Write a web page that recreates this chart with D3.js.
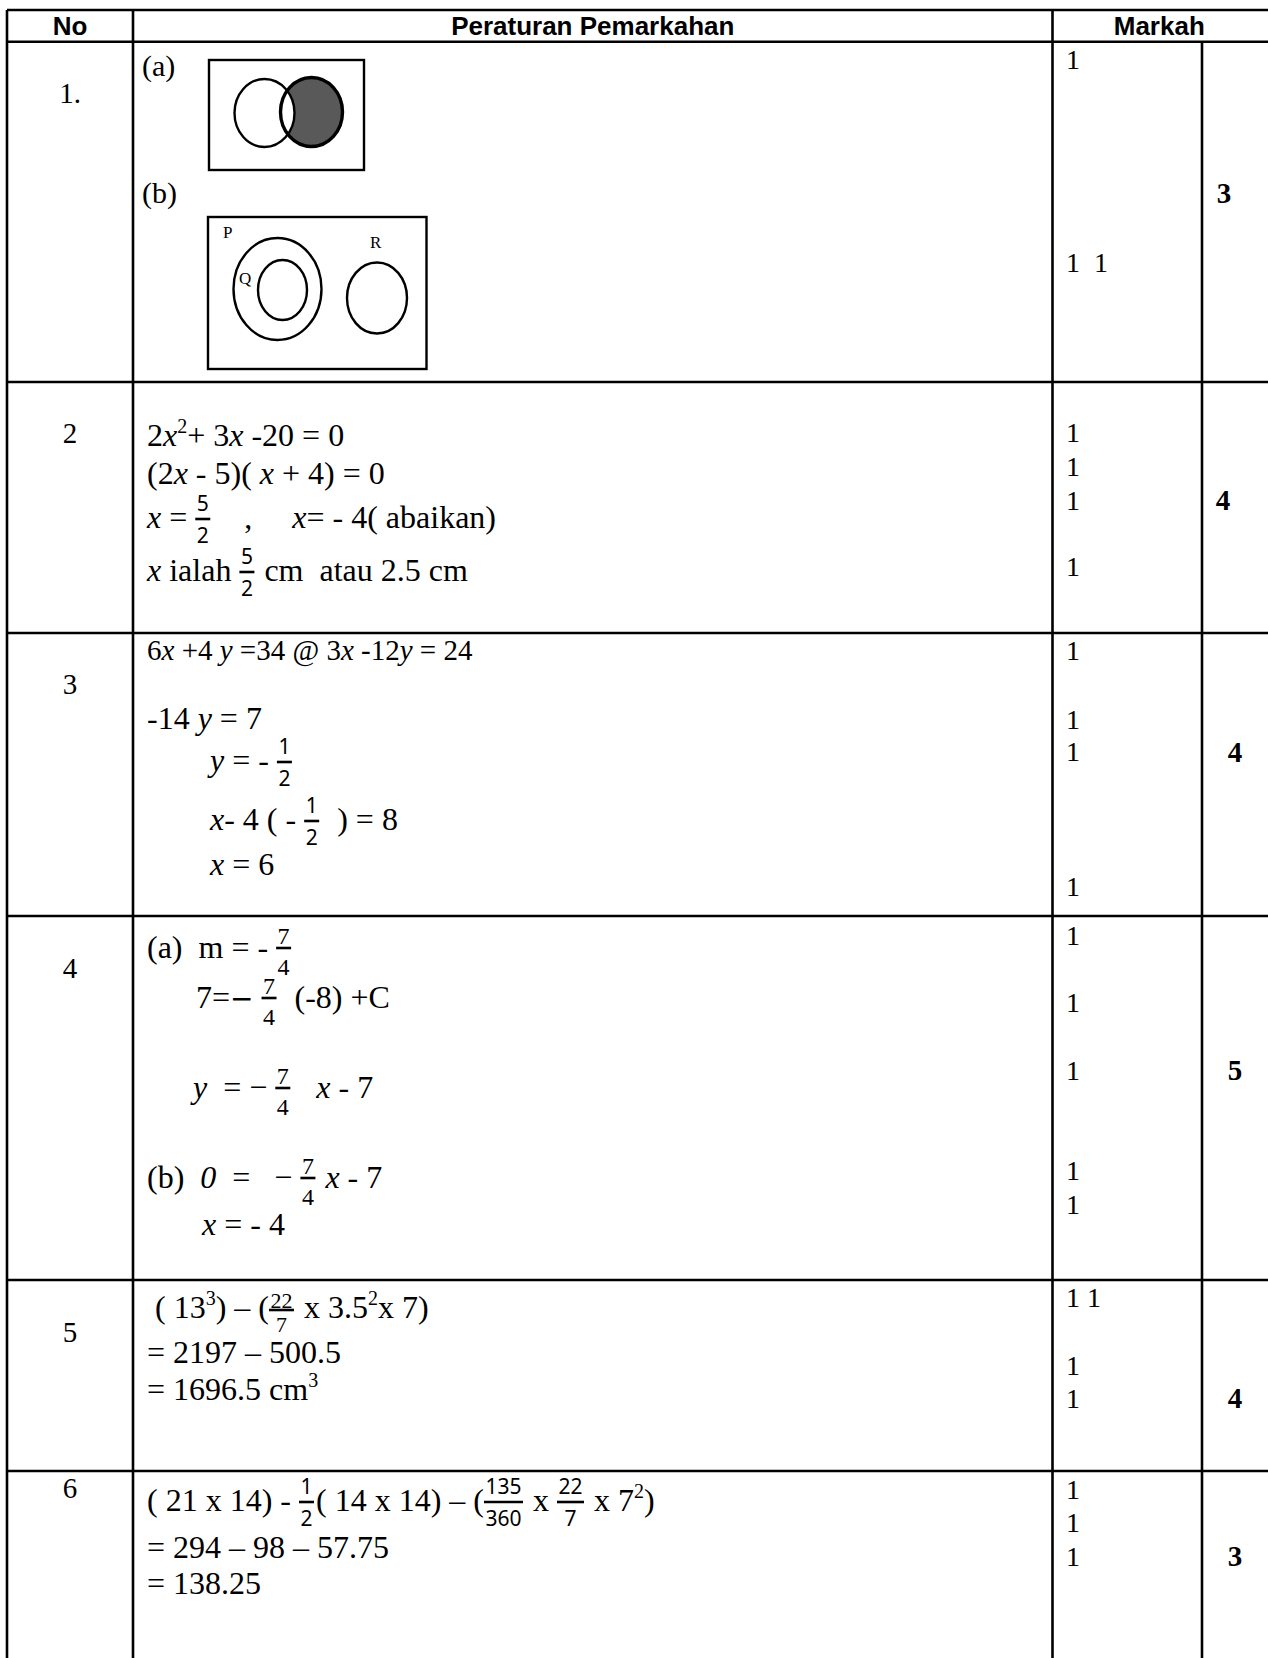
<!DOCTYPE html>
<html>
<head>
<meta charset="utf-8">
<script src="https://cdn.jsdelivr.net/npm/d3@7"></script>
<style>
  body { margin: 0; background: #fff; }
  text { white-space: pre; }
</style>
</head>
<body>
<div id="sheet"></div>
<script>
// ############################################################################
// Peraturan Pemarkahan                                          Marking table
// ############################################################################

// ============================================================================
// Data
// ============================================================================

const headers     = ['No', 'Peraturan Pemarkahan', 'Markah']
const questionNos = ['1.', '2', '3', '4', '5', '6']
const totalMarks  = [3, 4, 4, 5, 4, 3]

// marks given per step, one entry per printed line
const stepMarks = [
  ['1', '1  1'],
  ['1', '1', '1', '1'],
  ['1', '1', '1', '1'],
  ['1', '1', '1', '1', '1'],
  ['1 1', '1', '1'],
  ['1', '1', '1'],
]

// question 1: labels of the two Venn diagrams and the sets in (b)
const partLabels = ['(a)', '(b)']
const setLabels  = ['P', 'Q', 'R']

// working, with a small markup:
//   _x_ italic, ^2^ superscript, {a|b} fraction, ~−~ long maths minus
const working2 = [
  '2_x_^2^+ 3_x_ -20 = 0',
  '(2_x_ - 5)( _x_ + 4) = 0',
  '_x_ = {5|2}    ,     _x_= - 4( abaikan)',
  '_x_ ialah {5|2} cm  atau 2.5 cm',
]
const working3 = [
  '6_x_ +4 _y_ =34 @ 3_x_ -12_y_ = 24',
  '-14 _y_ = 7',
  '_y_ = - {1|2}',
  '_x_- 4 ( - {1|2}  ) = 8',
  '_x_ = 6',
]
const working4 = [
  '(a)  m = - {7|4}',
  '7=~\u2212~ {7|4}  (-8) +C',
  '_y_  = \u2212 {7|4}   _x_ - 7',
  '(b)  _0_  =   \u2212 {7|4} _x_ - 7',
  '_x_ = - 4',
]
const working5 = [
  ' ( 13^3^) \u2013 ({22|7} x 3.5^2^x 7)',
  '= 2197 \u2013 500.5',
  '= 1696.5 cm^3^',
]
const working6 = [
  '( 21 x 14) - {1|2}( 14 x 14) \u2013 ({135|360} x {22|7} x 7^2^)',
  '= 294 \u2013 98 \u2013 57.75',
  '= 138.25',
]

// ============================================================================
// Layout
// ============================================================================

const W = 1268, H = 1658
const colX    = { left: 7, no: 133, marks: 1052.5, total: 1202, right: W }
const rowY    = [10, 41.7, 382, 633, 916, 1280, 1471]   // top, header, rows
const noBase  = [103, 443, 694, 978, 1342, 1498]
const totalCx = [1224, 1223, 1235, 1235, 1235, 1235]
const totalBase = [203, 510, 762, 1080, 1408, 1566]
const markBase = [
  [69, 272],
  [442, 476, 510, 576],
  [660, 729, 761, 896],
  [945, 1012, 1080, 1180, 1214],
  [1307, 1375, 1408],
  [1499, 1532, 1566],
]

// one block per question with text (rows 2..6)
const blocks = [
  { lines: working2, x: [147, 147, 147, 147],       base: [446, 484, 528, 581],
    size: [32, 32, 32, 32], frac: 'sans' },
  { lines: working3, x: [147, 147, 210, 210, 210],  base: [660, 729, 771, 830, 875],
    size: [29, 32, 32, 32, 32], frac: 'sans' },
  { lines: working4, x: [147, 196, 193, 147, 202],  base: [958, 1008, 1098, 1188, 1235],
    size: [32, 32, 32, 32, 32], frac: 'serif' },
  { lines: working5, x: [147, 147, 147],            base: [1318, 1363, 1400],
    size: [32, 32, 32], frac: 'tight' },
  { lines: working6, x: [147, 147, 147],            base: [1511, 1558, 1594],
    size: [32, 32, 32], frac: 'sans' },
]

const SERIF = '"Liberation Serif", "Times New Roman", serif'
const SANS  = '"Liberation Sans", Arial, sans-serif'
const MATH  = '"Noto Sans", "DejaVu Sans", sans-serif'

const fracStyles = {
  sans:  { font: MATH,  size: 21, num: -17.5, bar: -9,  den: 15 },
  serif: { font: SERIF, size: 24, num: -14,   bar: -10, den: 17 },
  tight: { font: SERIF, size: 22, num: -10,   bar: -8,  den: 14 },
}

// ============================================================================
// Canvas
// ============================================================================

const svg = d3.select('#sheet').append('svg')
  .attr('width', W)
  .attr('height', H)
  .style('background-color', '#fff')
  .style('font-family', SERIF)

const grid  = svg.append('g').attr('class', 'grid')
const texts = svg.append('g').attr('class', 'texts')

// ============================================================================
// Table lines
// ============================================================================

const rule = (x1, y1, x2, y2) => grid.append('line')
  .attr('x1', x1).attr('y1', y1).attr('x2', x2).attr('y2', y2)
  .attr('stroke', '#000')
  .attr('stroke-width', 2.6)

rowY.forEach(y => rule(colX.left, y, colX.right, y))
rule(colX.left,  rowY[0], colX.left,  H)
rule(colX.no,    rowY[0], colX.no,    H)
rule(colX.marks, rowY[0], colX.marks, H)
rule(colX.total, rowY[1], colX.total, H)

// ============================================================================
// Header
// ============================================================================

const headerCx = [
  (colX.left + colX.no) / 2,
  (colX.no + colX.marks) / 2,
  (colX.marks + colX.right) / 2 - 1,
]
texts.selectAll('text.header')
  .data(headers)
  .join('text')
  .attr('class', 'header')
  .attr('x', (d, i) => headerCx[i])
  .attr('y', 35)
  .attr('text-anchor', 'middle')
  .style('font-family', SANS)
  .style('font-weight', 'bold')
  .style('font-size', '26px')
  .text(d => d)

// ============================================================================
// Question numbers, step marks and totals
// ============================================================================

texts.selectAll('text.qno')
  .data(questionNos)
  .join('text')
  .attr('class', 'qno')
  .attr('x', 70)
  .attr('y', (d, i) => noBase[i])
  .attr('text-anchor', 'middle')
  .style('font-size', '29px')
  .text(d => d)

stepMarks.forEach((marks, r) => {
  texts.selectAll('text.mark-' + r)
    .data(marks)
    .join('text')
    .attr('class', 'mark-' + r)
    .attr('x', 1066)
    .attr('y', (d, i) => markBase[r][i])
    .style('font-size', '28px')
    .text(d => d)
})

texts.selectAll('text.total')
  .data(totalMarks)
  .join('text')
  .attr('class', 'total')
  .attr('x', (d, i) => totalCx[i])
  .attr('y', (d, i) => totalBase[i])
  .attr('text-anchor', 'middle')
  .style('font-size', '29px')
  .style('font-weight', 'bold')
  .text(d => d)

// ============================================================================
// Inline maths: flow one marked-up line from left to right
// ============================================================================

function flowLine(g, markup, x, y, size, frac)
{
  let cx = x
  const parts = markup
    .split(/(_[^_]+_|\^[^^]+\^|\{[^}]+\}|~[^~]+~)/)
    .filter(s => s.length)

  for (const p of parts)
  {
    if (p[0] == '{')
    {
      // stacked fraction
      const [num, den] = p.slice(1, -1).split('|')
      const st = fracStyles[frac]
      const mk = s => g.append('text')
        .attr('text-anchor', 'middle')
        .style('font-family', st.font)
        .style('font-size', st.size + 'px')
        .text(s)
      const n = mk(num), d = mk(den)
      const w = Math.max(n.node().getComputedTextLength(),
                         d.node().getComputedTextLength()) + 3
      n.attr('x', cx + w / 2).attr('y', y + st.num)
      d.attr('x', cx + w / 2).attr('y', y + st.den)
      g.append('line')
        .attr('x1', cx).attr('x2', cx + w)
        .attr('y1', y + st.bar).attr('y2', y + st.bar)
        .attr('stroke', '#000')
        .attr('stroke-width', 2.6)
      cx += w + 2
      continue
    }

    let s = p, italic = false, sup = false, math = false
    if (p[0] == '_') { s = p.slice(1, -1); italic = true }
    if (p[0] == '^') { s = p.slice(1, -1); sup = true }
    if (p[0] == '~') { s = p.slice(1, -1); math = true }

    const t = g.append('text')
      .attr('x', cx)
      .attr('y', sup ? y - 13 : y)
      .attr('xml:space', 'preserve')
      .style('font-size', (sup ? Math.round(size * 0.62) : math ? 28 : size) + 'px')
      .style('font-style', italic ? 'italic' : 'normal')
      .text(s)
    if (math) t.style('font-family', '"DejaVu Sans", sans-serif')
    cx += t.node().getComputedTextLength()
  }
}

blocks.forEach(b => {
  const g = texts.append('g')
  b.lines.forEach((line, i) =>
    flowLine(g, line, b.x[i], b.base[i], b.size[i], b.frac))
})

// ============================================================================
// Question 1: Venn diagrams
// ============================================================================

const venn = svg.append('g').attr('class', 'venn')

texts.selectAll('text.part')
  .data(partLabels)
  .join('text')
  .attr('class', 'part')
  .attr('x', 142)
  .attr('y', (d, i) => [76, 203][i])
  .style('font-size', '30px')
  .text(d => d)

// (a) the part of B outside A is shaded
venn.append('rect')
  .attr('x', 209).attr('y', 60).attr('width', 155).attr('height', 110)
  .attr('fill', 'none').attr('stroke', '#000').attr('stroke-width', 2.4)
venn.append('ellipse')
  .attr('cx', 311.5).attr('cy', 112).attr('rx', 31).attr('ry', 34.5)
  .attr('fill', '#595959')
venn.append('ellipse')
  .attr('cx', 264.5).attr('cy', 113).attr('rx', 30).attr('ry', 34)
  .attr('fill', '#fff').attr('stroke', '#000').attr('stroke-width', 2.4)
venn.append('ellipse')
  .attr('cx', 311.5).attr('cy', 112).attr('rx', 31).attr('ry', 34.5)
  .attr('fill', 'none').attr('stroke', '#000').attr('stroke-width', 3.4)

// (b) Q inside P, R apart
venn.append('rect')
  .attr('x', 208).attr('y', 217).attr('width', 218.5).attr('height', 152)
  .attr('fill', 'none').attr('stroke', '#000').attr('stroke-width', 2.4)
const ellipses = [
  { cx: 277.5, cy: 289, rx: 44,   ry: 51 },
  { cx: 282.5, cy: 290, rx: 24.5, ry: 30 },
  { cx: 377,   cy: 298, rx: 30,   ry: 35.5 },
]
venn.selectAll('ellipse.set')
  .data(ellipses)
  .join('ellipse')
  .attr('class', 'set')
  .attr('cx', d => d.cx).attr('cy', d => d.cy)
  .attr('rx', d => d.rx).attr('ry', d => d.ry)
  .attr('fill', 'none').attr('stroke', '#000').attr('stroke-width', 2.4)

const setPos = [[223, 238], [239, 284], [370, 248]]
venn.selectAll('text.set')
  .data(setLabels)
  .join('text')
  .attr('class', 'set')
  .attr('x', (d, i) => setPos[i][0])
  .attr('y', (d, i) => setPos[i][1])
  .style('font-size', '17px')
  .text(d => d)
</script>
</body>
</html>
